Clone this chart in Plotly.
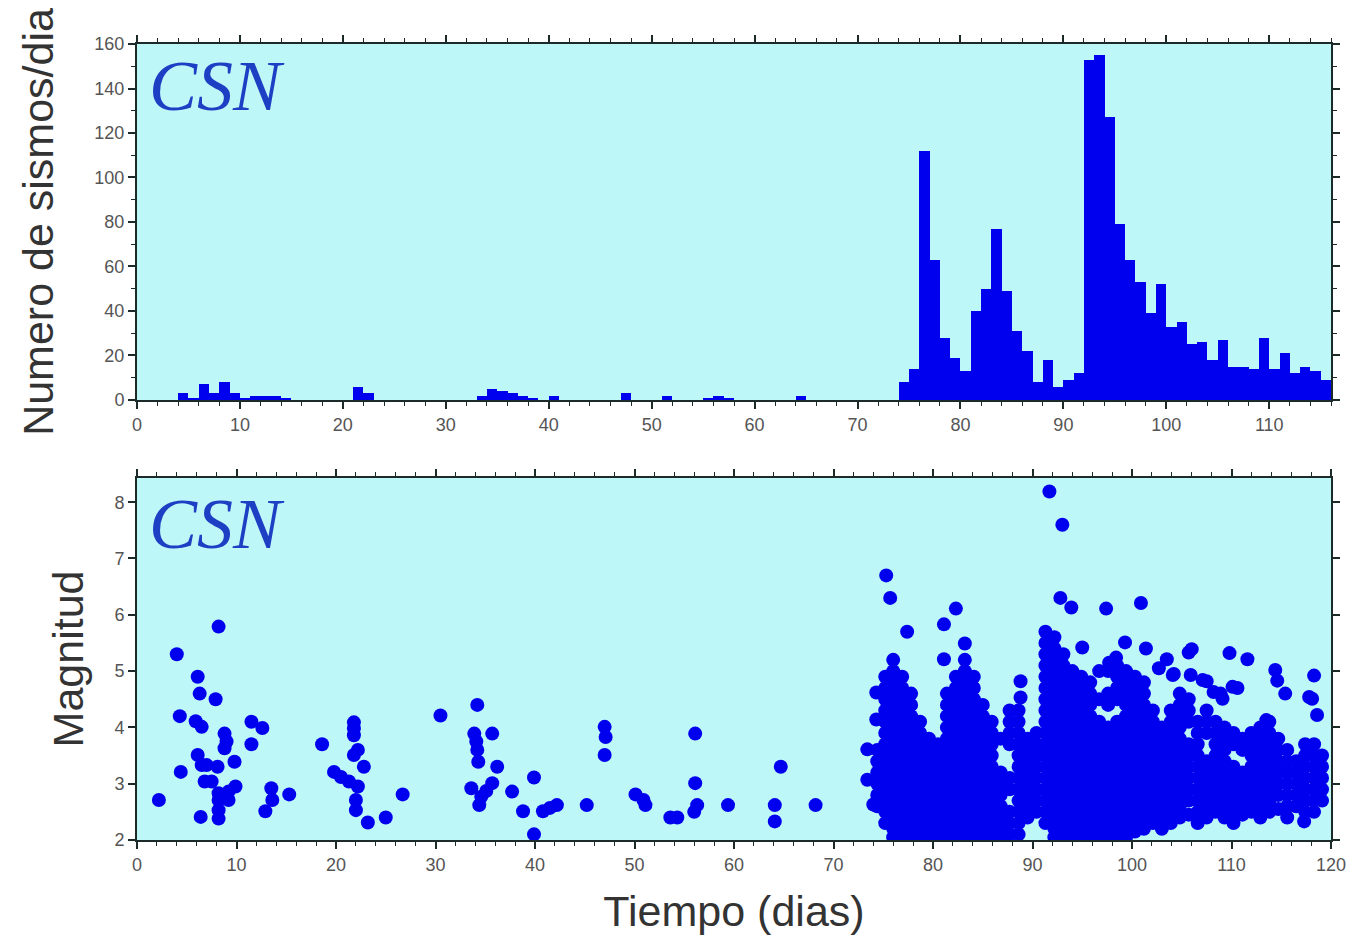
import plotly.graph_objects as go

BLUE = "#0000ee"
FRAME = "#1c2a2a"
BG = "#bdf7f8"

# ---------------- Top panel: daily counts (1-day bins starting at day 0) ----------------
hist_days = list(range(0, 116))
hist_counts = [0, 0, 0, 0, 3, 1, 7, 3, 8, 3,
               1, 2, 2, 2, 1, 0, 0, 0, 0, 0,
               0, 6, 3, 0, 0, 0, 0, 0, 0, 0,
               0, 0, 0, 2, 5, 4, 3, 2, 1, 0,
               2, 0, 0, 0, 0, 0, 0, 3, 0, 0,
               0, 2, 0, 0, 0, 1, 2, 1, 0, 0,
               0, 0, 0, 0, 2, 0, 0, 0, 0, 0,
               0, 0, 0, 0, 8, 14, 112, 63, 28, 19,
               13, 40, 50, 77, 49, 31, 22, 8, 18, 6,
               9, 12, 153, 155, 127, 79, 63, 53, 39, 52,
               33, 35, 25, 26, 18, 27, 15, 15, 14, 28,
               14, 21, 12, 15, 13, 9]

# ---------------- Bottom panel: magnitudes ----------------
early_day = [2.2, 4.0, 4.3, 4.4, 5.9, 6.5, 6.1, 6.3, 6.1, 6.5, 7.0, 6.8, 7.5, 6.4, 7.9, 8.2, 8.1, 8.8, 9.0, 8.8,
             9.8, 9.9, 9.2, 8.2, 8.2, 9.2, 8.2, 8.2, 11.5, 12.6, 11.5, 13.5, 13.6, 12.9, 15.3, 18.6, 19.8, 20.5,
             21.3, 21.8, 21.8, 21.8, 22.2, 21.8, 22.8, 22.2, 22.0, 22.0, 23.2, 25.0, 26.7, 30.5, 34.2, 33.9,
             34.1, 34.2, 34.3, 35.7, 36.2, 33.6, 35.1, 34.6, 34.4, 35.7, 37.7, 38.8, 39.9, 39.9, 40.8, 41.5,
             42.2, 45.2, 47.0, 47.1, 47.0, 50.1, 50.9, 51.1, 53.6, 54.3, 56.1, 56.1, 56.3, 56.0, 59.4, 64.1,
             64.1, 64.7, 68.2]
early_mag = [2.71, 5.30, 4.20, 3.21, 4.11, 4.01, 4.90, 4.60, 3.51, 3.33, 3.33, 3.04, 3.04, 2.41, 4.50, 5.79, 3.30, 3.89, 3.75, 3.63,
             3.39, 2.95, 2.86, 2.83, 2.71, 2.71, 2.53, 2.38, 4.10, 3.99, 3.70, 2.92, 2.71, 2.51, 2.81, 3.70, 3.21, 3.12,
             3.04, 4.09, 3.98, 3.86, 3.60, 3.51, 3.30, 2.95, 2.71, 2.53, 2.31, 2.40, 2.81, 4.21, 4.40, 3.89,
             3.75, 3.60, 3.39, 3.89, 3.30, 2.92, 2.87, 2.77, 2.62, 3.01, 2.86, 2.51, 3.11, 2.10, 2.51, 2.57,
             2.62, 2.62, 4.01, 3.83, 3.51, 2.81, 2.71, 2.62, 2.40, 2.40, 3.89, 3.01, 2.62, 2.50, 2.62, 2.62,
             2.33, 3.30, 2.62]

# isolated events around / above the two swarms
iso_day = [73.4, 73.4, 74.0, 74.3, 74.3, 75.3, 75.7, 77.4, 81.1, 82.3, 81.1, 83.2, 88.8, 88.8, 91.7, 93.0, 92.8,
           93.9, 95.0, 97.4, 100.9, 99.3, 101.4, 103.5, 105.7, 106.0, 109.8, 111.6, 114.4, 114.6, 115.4,
           118.3, 118.1, 118.6, 117.3, 104.2, 105.9, 107.5, 108.9, 110.6, 113.5, 104.1, 107.1, 108.2, 109.1,
           110.1, 117.8, 97.7, 98.4, 102.7]
iso_mag = [3.61, 3.07, 2.63, 4.62, 4.14, 6.70, 6.30, 5.70, 5.83, 6.11, 5.21, 5.49, 4.82, 4.53, 8.19, 7.60, 6.30,
           6.13, 5.42, 6.11, 6.21, 5.51, 5.40, 5.21, 5.33, 5.39, 5.32, 5.21, 5.02, 4.83, 4.60,
           4.92, 4.51, 4.22, 2.33, 4.95, 4.93, 4.82, 4.60, 4.70, 4.13, 4.93, 4.84, 4.63, 4.51,
           4.72, 4.54, 5.15, 5.24, 5.05]

# first swarm (days ~74-91): column day and the magnitudes stacked in that column
swarm1_day = [74.4, 75.2, 76.0, 76.9, 77.8, 78.7, 79.6, 80.5, 81.4, 82.3, 83.2, 84.1, 85.0, 85.9, 86.8,
              87.7, 88.6, 89.5, 90.4]
swarm1_mag = [
    [2.6, 2.8, 3.0, 3.2, 3.4, 3.6],
    [2.3, 2.5, 2.7, 2.9, 3.1, 3.3, 3.5, 3.7, 3.9, 4.1, 4.3, 4.5, 4.7, 4.9],
    [2.05, 2.2, 2.4, 2.6, 2.8, 3.0, 3.2, 3.4, 3.6, 3.8, 4.0, 4.2, 4.4, 4.6, 4.8, 5.0, 5.2],
    [2.1, 2.3, 2.5, 2.7, 2.9, 3.1, 3.3, 3.5, 3.7, 3.9, 4.1, 4.3, 4.5, 4.7, 4.9],
    [2.05, 2.2, 2.4, 2.6, 2.8, 3.0, 3.2, 3.4, 3.6, 3.8, 4.0, 4.2, 4.4, 4.6],
    [2.1, 2.3, 2.5, 2.7, 2.9, 3.1, 3.3, 3.5, 3.7, 3.9, 4.1],
    [2.05, 2.2, 2.4, 2.6, 2.8, 3.0, 3.2, 3.4, 3.6, 3.8],
    [2.1, 2.3, 2.5, 2.7, 2.9, 3.1, 3.3, 3.5, 3.7],
    [2.05, 2.2, 2.4, 2.6, 2.8, 3.0, 3.2, 3.4, 3.6, 3.8, 4.0, 4.2, 4.4, 4.6],
    [2.1, 2.3, 2.5, 2.7, 2.9, 3.1, 3.3, 3.5, 3.7, 3.9, 4.1, 4.3, 4.5, 4.7, 4.9],
    [2.05, 2.2, 2.4, 2.6, 2.8, 3.0, 3.2, 3.4, 3.6, 3.8, 4.0, 4.2, 4.4, 4.6, 4.8, 5.0, 5.2],
    [2.1, 2.3, 2.5, 2.7, 2.9, 3.1, 3.3, 3.5, 3.7, 3.9, 4.1, 4.3, 4.5, 4.7, 4.9],
    [2.05, 2.2, 2.4, 2.6, 2.8, 3.0, 3.2, 3.4, 3.6, 3.8, 4.0, 4.2, 4.4],
    [2.1, 2.3, 2.5, 2.7, 2.9, 3.1, 3.3, 3.5, 3.7, 3.9, 4.1],
    [2.05, 2.2, 2.4, 2.6, 2.8, 3.0, 3.2, 3.8],
    [2.1, 2.3, 2.5, 2.9, 3.1, 3.7, 3.9, 4.1, 4.3],
    [2.1, 2.3, 2.5, 2.7, 2.9, 3.1, 3.3, 3.5, 3.7, 3.9, 4.1, 4.3],
    [2.4, 2.6, 2.8, 3.0, 3.2, 3.4, 3.6, 3.8],
    [2.5, 2.7, 2.9, 3.1, 3.3, 3.5, 3.7, 3.9],
]

# second swarm (days ~91-120)
swarm2_day = [91.3, 92.2, 93.1, 94.0, 94.9, 95.8, 96.7, 97.6, 98.5, 99.4, 100.3, 101.2, 102.1, 103.0, 103.9,
              104.8, 105.7, 106.6, 107.5, 108.4, 109.3, 110.2, 111.1, 112.0, 112.9, 113.8, 114.7, 115.6,
              116.5, 117.4, 118.3, 119.1]
swarm2_mag = [
    [2.3, 2.5, 2.7, 2.9, 3.1, 3.3, 3.5, 3.7, 3.9, 4.1, 4.3, 4.5, 4.7, 4.9, 5.1, 5.3, 5.5, 5.7],
    [2.05, 2.2, 2.4, 2.6, 2.8, 3.0, 3.2, 3.4, 3.6, 3.8, 4.0, 4.2, 4.4, 4.6, 4.8, 5.0, 5.2, 5.4, 5.6],
    [2.1, 2.3, 2.5, 2.7, 2.9, 3.1, 3.3, 3.5, 3.7, 3.9, 4.1, 4.3, 4.5, 4.7, 4.9, 5.1, 5.3],
    [2.05, 2.2, 2.4, 2.6, 2.8, 3.0, 3.2, 3.4, 3.6, 3.8, 4.0, 4.2, 4.4, 4.6, 4.8, 5.0],
    [2.1, 2.3, 2.5, 2.7, 2.9, 3.1, 3.3, 3.5, 3.7, 3.9, 4.1, 4.3, 4.5, 4.7, 4.9],
    [2.05, 2.2, 2.4, 2.6, 2.8, 3.0, 3.2, 3.4, 3.6, 3.8, 4.0, 4.2, 4.4, 4.6, 4.8],
    [2.1, 2.3, 2.5, 2.7, 2.9, 3.1, 3.3, 3.5, 3.7, 3.9, 4.1, 4.5, 5.0],
    [2.05, 2.2, 2.4, 2.6, 2.8, 3.0, 3.2, 3.4, 3.6, 3.8, 4.0, 4.4, 4.6, 5.0],
    [2.1, 2.3, 2.5, 2.7, 2.9, 3.1, 3.3, 3.5, 3.7, 3.9, 4.1, 4.5, 4.7, 4.9, 5.1],
    [2.05, 2.2, 2.4, 2.6, 2.8, 3.0, 3.2, 3.4, 3.6, 3.8, 4.0, 4.2, 4.4, 4.6, 4.8, 5.0],
    [2.15, 2.3, 2.5, 2.7, 2.9, 3.1, 3.3, 3.5, 3.7, 3.9, 4.1, 4.3, 4.5, 4.7, 4.9],
    [2.2, 2.4, 2.6, 2.8, 3.0, 3.2, 3.4, 3.6, 3.8, 4.0, 4.2, 4.4, 4.6, 4.8],
    [2.3, 2.5, 2.7, 2.9, 3.1, 3.3, 3.5, 3.7, 3.9, 4.1, 4.3],
    [2.2, 2.4, 2.6, 2.8, 3.0, 3.2, 3.4, 3.6, 3.8, 4.0],
    [2.3, 2.5, 2.7, 2.9, 3.1, 3.3, 3.5, 3.7, 3.9, 4.1, 4.3],
    [2.4, 2.6, 2.8, 3.0, 3.2, 3.4, 3.6, 3.8, 4.0, 4.2, 4.4, 4.6],
    [2.45, 2.7, 2.9, 3.1, 3.3, 3.5, 3.7, 4.1, 4.3, 4.5],
    [2.3, 2.5, 2.7, 2.9, 3.1, 3.3, 3.5, 3.7, 3.9, 4.1],
    [2.4, 2.6, 2.8, 3.0, 3.2, 3.4, 3.9, 4.1, 4.3],
    [2.5, 2.7, 2.9, 3.1, 3.3, 3.5, 3.7, 3.9, 4.1],
    [2.4, 2.6, 2.8, 3.0, 3.2, 3.4, 3.6, 3.8, 4.0],
    [2.3, 2.5, 2.7, 2.9, 3.1, 3.3, 3.7, 3.9],
    [2.45, 2.6, 2.8, 3.0, 3.2, 3.6, 3.8],
    [2.5, 2.7, 2.9, 3.1, 3.3, 3.5, 3.7, 3.9],
    [2.4, 2.6, 2.8, 3.0, 3.2, 3.4, 3.6, 3.8, 4.0],
    [2.5, 2.7, 2.9, 3.1, 3.3, 3.5, 3.7, 3.9, 4.1],
    [2.55, 2.8, 3.0, 3.2, 3.4, 3.6, 3.8],
    [2.4, 2.6, 2.8, 3.0, 3.2, 3.4, 3.6],
    [2.6, 2.8, 3.0, 3.2, 3.4],
    [2.5, 2.7, 2.9, 3.1, 3.3, 3.5, 3.7],
    [2.5, 2.7, 2.9, 3.1, 3.3, 3.5, 3.7],
    [2.7, 2.9, 3.1, 3.3, 3.5],
]

# ---------------- assemble scatter points ----------------
pt_day = list(early_day) + list(iso_day)
pt_mag = list(early_mag) + list(iso_mag)
for days, mags in ((swarm1_day, swarm1_mag), (swarm2_day, swarm2_mag)):
    for d, col in zip(days, mags):
        for m in col:
            pt_day.append(d)
            pt_mag.append(m)

fig = go.Figure()
fig.add_trace(go.Bar(x=hist_days, y=hist_counts, width=1, offset=0,
                     marker=dict(color=BLUE, line=dict(width=0)),
                     xaxis="x", yaxis="y", showlegend=False))
fig.add_trace(go.Scatter(x=pt_day, y=pt_mag, mode="markers",
                         marker=dict(size=14, color=BLUE, line=dict(width=0)),
                         xaxis="x2", yaxis="y2", showlegend=False))

tickfont = dict(family="Liberation Sans, Arial, sans-serif", size=18, color="#555555")
titlefont = dict(family="Liberation Sans, Arial, sans-serif", size=43, color="#333333")

common = dict(showline=True, linewidth=2, linecolor=FRAME, mirror="ticks",
              ticks="outside", ticklen=7, tickwidth=1.5, tickcolor=FRAME,
              showgrid=False, zeroline=False, tickfont=tickfont)

fig.update_layout(
    width=1354, height=942,
    margin=dict(l=129, r=31, t=36, b=110),
    paper_bgcolor="white", plot_bgcolor=BG,
    bargap=0,
    xaxis=dict(domain=[0, 1], anchor="y", range=[0, 116], tick0=0, dtick=10,
               minor=dict(dtick=2, ticks="outside", ticklen=4, tickcolor=FRAME, tickwidth=1),
               **common),
    yaxis=dict(domain=[0.5528, 1], anchor="x", range=[0, 160], tick0=0, dtick=20,
               minor=dict(dtick=10, ticks="outside", ticklen=4, tickcolor=FRAME, tickwidth=1),
               title=dict(text="Numero de sismos/dia", font=titlefont, standoff=27),
               **common),
    xaxis2=dict(domain=[0, 1], anchor="y2", range=[0, 120], tick0=0, dtick=10,
                minor=dict(dtick=2, ticks="outside", ticklen=4, tickcolor=FRAME, tickwidth=1),
                title=dict(text="Tiempo (dias)", font=titlefont, standoff=22),
                **common),
    yaxis2=dict(domain=[0, 0.4548], anchor="x2", range=[2, 8.43], tick0=2, dtick=1,
                title=dict(text="Magnitud", font=titlefont, standoff=17),
                **common),
)

csn_font = dict(family="Liberation Serif, Times New Roman, serif", size=72, color="#1d3fc4")
fig.add_annotation(text="<i>CSN</i>", xref="x domain", yref="y domain", x=0, y=1,
                   xanchor="left", yanchor="top", xshift=10, yshift=0,
                   showarrow=False, font=csn_font)
fig.add_annotation(text="<i>CSN</i>", xref="x2 domain", yref="y2 domain", x=0, y=1,
                   xanchor="left", yanchor="top", xshift=10, yshift=-4,
                   showarrow=False, font=csn_font)

fig.write_html("out.html")
